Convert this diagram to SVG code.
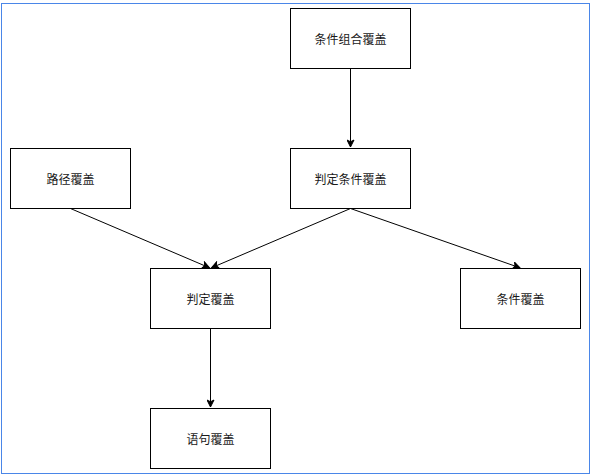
<svg xmlns="http://www.w3.org/2000/svg" width="593" height="476" viewBox="0 0 593 476">
<style>
.n rect{fill:#fff;stroke:#000;stroke-width:1}
.n text{font-family:"Noto Sans CJK SC","Liberation Sans",sans-serif;font-size:12px;fill:#1a1a1a;text-anchor:middle;dominant-baseline:central}
.e path{fill:none;stroke:#000;stroke-width:1}
</style>
<defs>
<marker id="arr" markerUnits="userSpaceOnUse" markerWidth="9" markerHeight="8" viewBox="-8 -4 9 8" refX="0" refY="0" orient="auto">
<path d="M0,0 L-7,-3.5 L-5.25,0 L-7,3.5 z" fill="#000" stroke="#000" stroke-width="1"/>
</marker>
</defs>
<rect x="0" y="0" width="593" height="476" fill="#fff"/>
<rect x="1.5" y="3.5" width="588" height="470" fill="none" stroke="#4a86e8" stroke-width="1"/>
<g id="connectors" class="e">
<path d="M350.5,68.5 L350.5,147" marker-end="url(#arr)"/>
<path d="M70.5,208.5 L209.5,267.8" marker-end="url(#arr)"/>
<path d="M350.5,208.5 L211.5,267.8" marker-end="url(#arr)"/>
<path d="M350.5,208.5 L520,267.8" marker-end="url(#arr)"/>
<path d="M210.5,328.5 L210.5,407" marker-end="url(#arr)"/>
</g>
<g id="n1" class="n"><rect x="290.5" y="8.5" width="120" height="60"/><text x="350.5" y="38.5">条件组合覆盖</text></g>
<g id="n2" class="n"><rect x="290.5" y="148.5" width="120" height="60"/><text x="350.5" y="178.5">判定条件覆盖</text></g>
<g id="n3" class="n"><rect x="10.5" y="148.5" width="120" height="60"/><text x="70.5" y="178.5">路径覆盖</text></g>
<g id="n4" class="n"><rect x="150.5" y="268.5" width="120" height="60"/><text x="210.5" y="298.5">判定覆盖</text></g>
<g id="n5" class="n"><rect x="460.5" y="268.5" width="120" height="60"/><text x="520.5" y="298.5">条件覆盖</text></g>
<g id="n6" class="n"><rect x="150.5" y="408.5" width="120" height="60"/><text x="210.5" y="438.5">语句覆盖</text></g>
</svg>
